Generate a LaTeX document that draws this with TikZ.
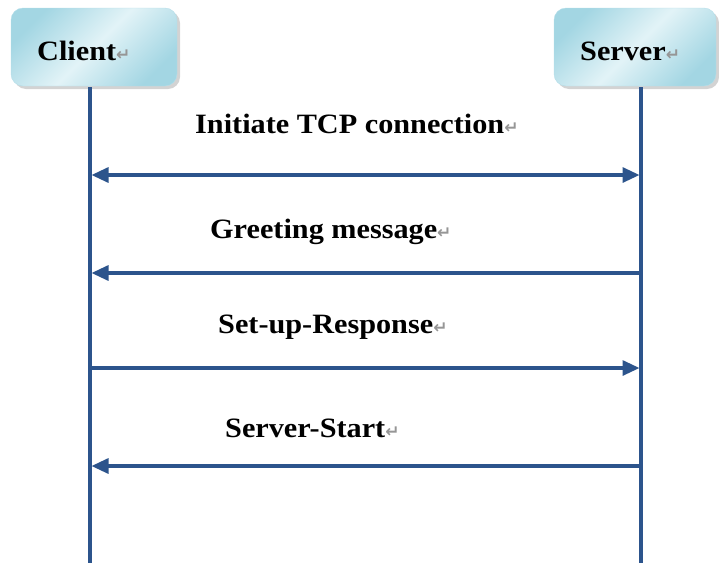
\documentclass[tikz,border=0pt]{standalone}
\usepackage{fontspec}
\setmainfont{Liberation Serif}[FakeStretch=1.08]
\newfontfamily\retfont{DejaVu Sans}
\usetikzlibrary{arrows.meta,shadows}
\definecolor{lifeblue}{RGB}{44,84,140}
\definecolor{boxedge}{RGB}{163,214,227}
\definecolor{boxmid}{RGB}{226,243,247}
\definecolor{retgray}{RGB}{150,150,150}
\newcommand{\retmark}{{\retfont\color{retgray}\fontsize{17}{17}\selectfont ↵}}
\begin{document}
\begin{tikzpicture}[x=1pt,y=-1pt,
  actorbox/.style={rounded corners=12pt, minimum width=166pt, minimum height=78pt,
    left color=boxedge, right color=boxedge, middle color=boxmid, shading angle=45,
    draw=boxedge!80!white, line width=0.4pt,
    drop shadow={shadow xshift=3pt, shadow yshift=-3pt, opacity=0.35, fill=gray}},
  lbl/.style={anchor=base west, inner sep=0pt, font=\fontsize{28}{30}\selectfont\bfseries},
  lifeline/.style={draw=lifeblue, line width=3.2pt},
  msg/.style={draw=lifeblue, line width=3.2pt},
  tip/.style={Triangle[length=16pt,width=14pt]}
]
\useasboundingbox (0,0) rectangle (719,563);

% actor boxes
\node[actorbox] (clientbox) at (94,47) {};
\node[actorbox, minimum width=162pt] (serverbox) at (635,47) {};
\node[lbl] (clientlbl) at (37,60) {Client\retmark};
\node[lbl] (serverlbl) at (580,60) {Server\retmark};

% lifelines
\coordinate (ctop) at (90,87);
\coordinate (cbot) at (90,563);
\coordinate (stop) at (641,87);
\coordinate (sbot) at (641,563);
\draw[lifeline] (ctop) -- (cbot);
\draw[lifeline] (stop) -- (sbot);

% message anchor points
\coordinate (c1) at (91.5,175);  \coordinate (s1) at (639.5,175);
\coordinate (c2) at (91.5,273);  \coordinate (s2) at (639.5,273);
\coordinate (c3) at (91.5,368);  \coordinate (s3) at (639.5,368);
\coordinate (c4) at (91.5,466);  \coordinate (s4) at (639.5,466);

% messages
\draw[msg, {Triangle[length=17pt,width=15pt]}-{Triangle[length=17pt,width=15pt]}] (c1) -- (s1);
\draw[msg, -{Triangle[length=17pt,width=15pt]}] (s2) -- (c2);
\draw[msg, -{Triangle[length=17pt,width=15pt]}] (c3) -- (s3);
\draw[msg, -{Triangle[length=17pt,width=15pt]}] (s4) -- (c4);

% labels
\node[lbl] (m1) at (195,133) {Initiate TCP connection\retmark};
\node[lbl] (m2) at (210,238) {Greeting message\retmark};
\node[lbl] (m3) at (218,333) {Set-up-Response\retmark};
\node[lbl] (m4) at (225,437) {Server-Start\retmark};
\end{tikzpicture}
\end{document}
